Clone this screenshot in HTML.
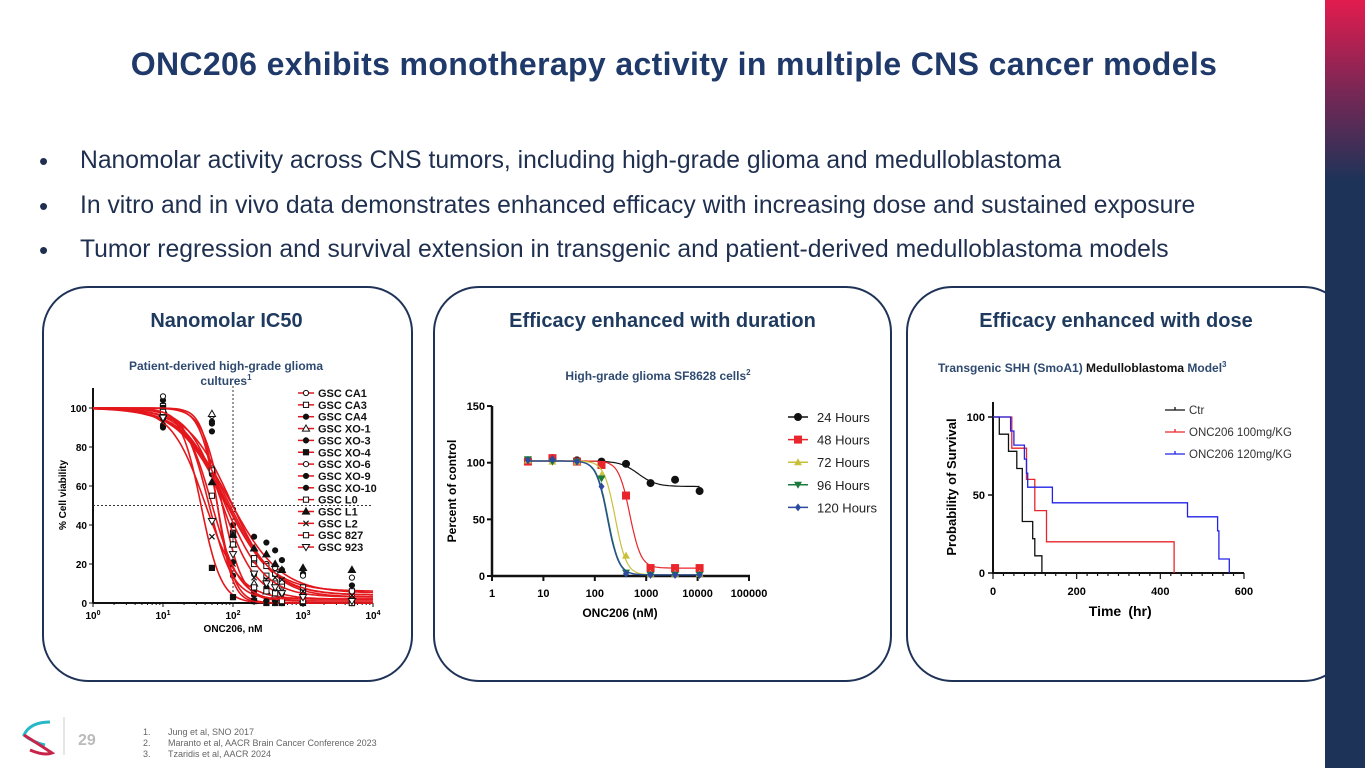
<!DOCTYPE html>
<html><head><meta charset="utf-8">
<style>
body{margin:0;width:1365px;height:768px;overflow:hidden;background:#fff;font-family:"Liberation Sans",Arial,sans-serif;position:relative}
.abs{position:absolute}
.title{left:0;width:1348px;top:46px;text-align:center;font-size:32px;font-weight:bold;color:#1f3a6a;letter-spacing:0.35px;white-space:nowrap}
.bul{left:39px;font-size:26px;color:#1f2f4f}
.bul span{position:absolute;left:41px;white-space:nowrap;font-size:24.7px;top:1px}
.panel{border:2px solid #1f3358;border-radius:46px;top:286px;height:392px}
.ptitle{font-size:20px;font-weight:bold;color:#1f3a5f;text-align:center;top:310px}
svg text{font-family:"Liberation Sans",Arial,sans-serif}
</style></head><body>
<div class="abs" style="left:1325px;top:0;width:40px;height:768px;background:linear-gradient(#e21c4e 0,#7a2755 90px,#1e3358 180px,#1e3358 768px)"></div>
<div class="abs title">ONC206 exhibits monotherapy activity in multiple CNS cancer models</div>
<div class="abs bul" style="top:146px">•<span>Nanomolar activity across CNS tumors, including high-grade glioma and medulloblastoma</span></div>
<div class="abs bul" style="top:191px">•<span>In vitro and in vivo data demonstrates enhanced efficacy with increasing dose and sustained exposure</span></div>
<div class="abs bul" style="top:235px">•<span>Tumor regression and survival extension in transgenic and patient-derived medulloblastoma models</span></div>
<div class="abs panel" style="left:42px;width:367px"></div>
<div class="abs panel" style="left:433px;width:455px"></div>
<div class="abs panel" style="left:906px;width:440px"></div>
<div class="abs ptitle" style="left:42px;width:369px">Nanomolar IC50</div>
<div class="abs ptitle" style="left:433px;width:459px">Efficacy enhanced with duration</div>
<div class="abs ptitle" style="left:906px;width:420px">Efficacy enhanced with dose</div>

<svg class="abs" style="left:0;top:0" width="1365" height="768" id="charts">
<text x="226" y="370" text-anchor="middle" font-size="12" font-weight="bold" fill="#2f4a70">Patient-derived high-grade glioma</text>
<text x="226" y="385" text-anchor="middle" font-size="12" font-weight="bold" fill="#2f4a70">cultures<tspan font-size="8" dy="-5">1</tspan></text>
<text x="658" y="380" text-anchor="middle" font-size="12" font-weight="bold" fill="#2f4a70">High-grade glioma SF8628 cells<tspan font-size="8" dy="-5">2</tspan></text>
<text x="938" y="372" font-size="12" font-weight="bold" fill="#2f4a70">Transgenic SHH (SmoA1) <tspan fill="#111">Medulloblastoma</tspan> Model<tspan font-size="8" dy="-5">3</tspan></text>
<g id="c1"></g><g id="c2"></g><g id="c3"></g>
<g>
<path d="M50 722 Q30 722 24 735 Q32 742 45 745" fill="none" stroke="#27b7c7" stroke-width="3"/>
<path d="M24 735 Q40 745 52 753 Q44 756 30 750" fill="none" stroke="#c8234a" stroke-width="3"/>
</g>
<line x1="64" y1="717" x2="64" y2="755" stroke="#ccc"/>
<text x="78" y="745" font-size="16" font-weight="bold" fill="#bbb">29</text>
<g font-size="9" fill="#666">
<text x="143" y="735">1.</text><text x="168" y="735">Jung et al, SNO 2017</text>
<text x="143" y="746">2.</text><text x="168" y="746">Maranto et al, AACR Brain Cancer Conference 2023</text>
<text x="143" y="757">3.</text><text x="168" y="757">Tzaridis et al, AACR 2024</text>
</g>
</svg>
<script>
// ---------- Chart 1 data ----------
const c1Names=["GSC CA1","GSC CA3","GSC CA4","GSC XO-1","GSC XO-3","GSC XO-4","GSC XO-6","GSC XO-9","GSC XO-10","GSC L0","GSC L1","GSC L2","GSC 827","GSC 923"];
const c1Doses=[10,50,100,200,300,400,500,1000,5000];
const c1IC50=[95,80,90,70,60,35,75,70,60,75,85,40,50,45];
const c1Hill=[1.4,1.3,1.2,3,3.5,3,1.3,1.8,4,1.5,1.3,1.8,2.2,2.5];
const c1Bottom=[3,4,5,1,0,0,6,2,0,3,4,2,1,2];
const c1Vals=[
[100,96,48,22,12,9,8,5,3],[101,68,36,20,14,10,9,6,4],[104,92,40,34,31,27,22,15,9],
[99,97,30,10,6,4,3,2,1],[90,88,14,4,1,0,0,0,0],[100,18,3,1,0,0,0,0,0],
[106,69,36,22,20,18,17,14,13],[95,66,30,15,8,6,5,3,2],[91,93,21,6,1,1,0,0,0],
[96,68,35,23,19,15,11,8,6],[97,62,35,28,25,20,17,18,17],[93,34,20,13,12,13,12,6,4],
[98,55,30,8,6,5,1,1,0],[95,42,25,15,10,8,5,3,1]];
const c1Marks=["oc","sq","di","ot","fc","fs","oc","fc","di","sq","ft","x","os","ov"];
const c1YTicks=[0,20,40,60,80,100];
const c1XTicks=[0,1,2,3,4];
// ---------- Chart 2 data ----------
const c2Series=["24 Hours","48 Hours","72 Hours","96 Hours","120 Hours"];
const c2Colors=["#111","#e8262b","#c9c03a","#1b7a3c","#2b4aa0"];
const c2Doses=[5,15,45,135,405,1215,3645,10935];
const c2V24=[102,104,102,101,99,82,85,75];
const c2V48=[101,104,101,98,71,7,7,7];
const c2V72=[102,101,101,89,18,2,2,2];
const c2V96=[103,101,101,86,3,1,1,1];
const c2V120=[102,103,101,79,2,1,1,1];
const c2IC50=[700,480,250,180,175];
const c2Bottom=[79,7,1,1,1];
const c2YTicks=[0,50,100,150];
const c2XTicks=["1","10","100","1000","10000","100000"];
// ---------- Chart 3 data ----------
const c3Series=["Ctr","ONC206 100mg/KG","ONC206 120mg/KG"];
const c3Colors=["#111","#e8262b","#2323e6"];
const c3CtrT=[0,15,37,57,70,95,100,117];
const c3CtrS=[100,89,78,67,33,22,11,0];
const c3D100T=[0,45,80,100,128,433];
const c3D100S=[100,80,60,40,20,0];
const c3D120T=[0,42,50,75,80,83,142,465,537,540,565];
const c3D120S=[100,91,82,73,64,55,45,36,27,9,0];
const c3YTicks=[0,50,100];
const c3XTicks=[0,200,400,600];

const NS="http://www.w3.org/2000/svg";
function mk(p,tag,at,txt){const e=document.createElementNS(NS,tag);for(const k in at)e.setAttribute(k,at[k]);if(txt!==undefined)e.textContent=txt;p.appendChild(e);return e;}

// Chart 1
(function(){
const g=document.getElementById('c1');
const xs=d=>93+Math.log10(d)*70, ys=v=>603-v*1.95;
mk(g,'line',{x1:93,y1:388,x2:93,y2:603,stroke:'#111','stroke-width':2});
mk(g,'line',{x1:93,y1:603,x2:373,y2:603,stroke:'#111','stroke-width':2});
c1YTicks.forEach(t=>{mk(g,'line',{x1:89,y1:ys(t),x2:93,y2:ys(t),stroke:'#111'});
 const e=mk(g,'text',{x:87,y:ys(t)+4,'text-anchor':'end','font-size':10,'font-weight':'bold'},t);
 });
c1XTicks.forEach(t=>{const x=xs(Math.pow(10,t));mk(g,'line',{x1:x,y1:603,x2:x,y2:607,stroke:'#111'});
 for(let m=2;m<10&&t<4;m++){const xm=xs(m*Math.pow(10,t));mk(g,'line',{x1:xm,y1:603,x2:xm,y2:605,stroke:'#111'});}
 const e=mk(g,'text',{x:x,y:619,'text-anchor':'middle','font-size':10,'font-weight':'bold'});
 
 e.innerHTML='10<tspan dy="-4" font-size="7">'+t+'</tspan>';});
let e=mk(g,'text',{x:233,y:632,'text-anchor':'middle','font-size':10,'font-weight':'bold'},'ONC206, nM');

e=mk(g,'text',{x:66,y:495,'text-anchor':'middle','font-size':10,'font-weight':'bold',transform:'rotate(-90 66 495)'},'% Cell viability');

mk(g,'line',{x1:xs(100),y1:386,x2:xs(100),y2:603,stroke:'#333','stroke-dasharray':'2,2'});
mk(g,'line',{x1:93,y1:ys(50),x2:373,y2:ys(50),stroke:'#333','stroke-dasharray':'2,2'});
function marker(p,k,x,y,s){const a={stroke:'#111','stroke-width':1,fill:k[0]=='f'?'#111':'#fff'};
 if(k=='oc'||k=='fc'||k=='di')return mk(p,'circle',Object.assign(a,{cx:x,cy:y,r:s,fill:k=='oc'?'#fff':'#111'}));
 if(k=='sq'||k=='fs'||k=='os')return mk(p,'rect',Object.assign(a,{x:x-s,y:y-s,width:2*s,height:2*s,fill:k=='fs'?'#111':'#fff'}));
 if(k=='ot'||k=='ft')return mk(p,'path',Object.assign(a,{d:`M${x} ${y-s-1}L${x+s+1} ${y+s}L${x-s-1} ${y+s}Z`}));
 if(k=='ov')return mk(p,'path',Object.assign(a,{d:`M${x} ${y+s+1}L${x+s+1} ${y-s}L${x-s-1} ${y-s}Z`}));
 return mk(p,'path',{d:`M${x-s} ${y-s}L${x+s} ${y+s}M${x-s} ${y+s}L${x+s} ${y-s}`,stroke:'#111','stroke-width':1.2});}
c1Names.forEach((n,i)=>{
 let d='';for(let k=0;k<=140;k++){const lx=k/35, v=c1Bottom[i]+(100-c1Bottom[i])/(1+Math.pow(Math.pow(10,lx)/c1IC50[i],c1Hill[i]));d+=(k?'L':'M')+xs(Math.pow(10,lx)).toFixed(1)+' '+ys(v).toFixed(1);}
 const c=mk(g,'path',{d:d,fill:'none',stroke:'#e3171c','stroke-width':1.6});
 
 c1Doses.forEach((ds,j)=>{const m=marker(g,c1Marks[i],xs(ds),ys(c1Vals[i][j]),2.6);
  });
 const ly=393+i*11.85;
 mk(g,'line',{x1:298,y1:ly,x2:314,y2:ly,stroke:'#e3171c','stroke-width':1.5});
 marker(g,c1Marks[i],306,ly,2.6);
 const t=mk(g,'text',{x:318,y:ly+4,'font-size':11,'font-weight':'bold',fill:'#111'},n);
 
});
})();

// Chart 2
(function(){
const g=document.getElementById('c2');
const xs=d=>492+Math.log10(d)*51.4, ys=v=>576-v*1.133;
const vals=[c2V24,c2V48,c2V72,c2V96,c2V120];
mk(g,'line',{x1:492,y1:406,x2:492,y2:577,stroke:'#111','stroke-width':2.5});
mk(g,'line',{x1:491,y1:576,x2:750,y2:576,stroke:'#111','stroke-width':2.5});
c2YTicks.forEach(t=>{mk(g,'line',{x1:487,y1:ys(t),x2:492,y2:ys(t),stroke:'#111','stroke-width':2});
 const e=mk(g,'text',{x:485,y:ys(t)+4,'text-anchor':'end','font-size':11,'font-weight':'bold'},t);
 });
c2XTicks.forEach((t,i)=>{const x=xs(Math.pow(10,i));mk(g,'line',{x1:x,y1:576,x2:x,y2:581,stroke:'#111','stroke-width':2});
 const e=mk(g,'text',{x:x,y:597,'text-anchor':'middle','font-size':11,'font-weight':'bold'},t);
 });
let e=mk(g,'text',{x:620,y:617,'text-anchor':'middle','font-size':12,'font-weight':'bold'},'ONC206 (nM)');

e=mk(g,'text',{x:456,y:491,'text-anchor':'middle','font-size':12,'font-weight':'bold',transform:'rotate(-90 456 491)'},'Percent of control');

c2Series.forEach((n,i)=>{
 const top=101.5,b=c2Bottom[i];let d='';
 for(let k=0;k<=100;k++){const lx=Math.log10(5)+k*(Math.log10(10935)-Math.log10(5))/100;const v=b+(top-b)/(1+Math.pow(Math.pow(10,lx)/c2IC50[i],i==0?2.5:4));d+=(k?'L':'M')+xs(Math.pow(10,lx)).toFixed(1)+' '+ys(v).toFixed(1);}
 const c=mk(g,'path',{d:d,fill:'none',stroke:c2Colors[i],'stroke-width':1.2});
 
 const mkr=(x,y)=>{const s=4;let m;
  if(i==0)m=mk(g,'circle',{cx:x,cy:y,r:s,fill:c2Colors[i]});
  else if(i==1)m=mk(g,'rect',{x:x-s,y:y-s,width:2*s,height:2*s,fill:c2Colors[i]});
  else if(i==2)m=mk(g,'path',{d:`M${x} ${y-s}L${x+s} ${y+s-1}L${x-s} ${y+s-1}Z`,fill:c2Colors[i]});
  else if(i==3)m=mk(g,'path',{d:`M${x} ${y+s}L${x+s} ${y-s+1}L${x-s} ${y-s+1}Z`,fill:c2Colors[i]});
  else m=mk(g,'path',{d:`M${x} ${y-s}L${x+s-1} ${y}L${x} ${y+s}L${x-s+1} ${y}Z`,fill:c2Colors[i]});
  return m;};
 c2Doses.forEach((ds,j)=>{const m=mkr(xs(ds),ys(vals[i][j]));});
 const ly=417+i*22.6;
 mk(g,'line',{x1:788,y1:ly,x2:808,y2:ly,stroke:c2Colors[i],'stroke-width':1.5});mkr(798,ly);
 const t=mk(g,'text',{x:817,y:ly+5,'font-size':13,fill:'#222'},n);
 
});
})();

// Chart 3
(function(){
const g=document.getElementById('c3');
const xs=t=>993+t*0.4183, ys=v=>573-v*1.56;
const T=[c3CtrT,c3D100T,c3D120T],S=[c3CtrS,c3D100S,c3D120S];
mk(g,'line',{x1:993,y1:402,x2:993,y2:574,stroke:'#111','stroke-width':2});
mk(g,'line',{x1:992,y1:573,x2:1244,y2:573,stroke:'#111','stroke-width':2});
c3YTicks.forEach(t=>{mk(g,'line',{x1:988,y1:ys(t),x2:993,y2:ys(t),stroke:'#111','stroke-width':1.5});
 const e=mk(g,'text',{x:985,y:ys(t)+4,'text-anchor':'end','font-size':11,'font-weight':'bold'},t);
 });
for(let t=0;t<=600;t+=25)mk(g,'line',{x1:xs(t),y1:573,x2:xs(t),y2:t%200==0?579:576,stroke:'#111','stroke-width':1.2});
c3XTicks.forEach(t=>{const e=mk(g,'text',{x:xs(t),y:595,'text-anchor':'middle','font-size':11,'font-weight':'bold'},t);
 });
let e=mk(g,'text',{x:1105,y:616,'text-anchor':'middle','font-size':14,'font-weight':'bold'},'Time');

e=mk(g,'text',{x:1140,y:616,'text-anchor':'middle','font-size':14,'font-weight':'bold'},'(hr)');

e=mk(g,'text',{x:956,y:487,'text-anchor':'middle','font-size':13,'font-weight':'bold',transform:'rotate(-90 956 487)'},'Probability of Survival');

c3Series.forEach((n,i)=>{
 let d='M'+xs(T[i][0])+' '+ys(S[i][0]);
 for(let k=1;k<T[i].length;k++)d+='H'+xs(T[i][k]).toFixed(1)+'V'+ys(S[i][k]).toFixed(1);
 const c=mk(g,'path',{d:d,fill:'none',stroke:c3Colors[i],'stroke-width':1.3});
 
 const ly=410+i*22;
 mk(g,'line',{x1:1165,y1:ly,x2:1185,y2:ly,stroke:c3Colors[i],'stroke-width':1.3});
 mk(g,'line',{x1:1175,y1:ly-3,x2:1175,y2:ly,stroke:c3Colors[i],'stroke-width':1.3});
 const t=mk(g,'text',{x:1189,y:ly+4,'font-size':11.5,fill:'#333'},n);
 
});
})();
</script>
</body></html>
